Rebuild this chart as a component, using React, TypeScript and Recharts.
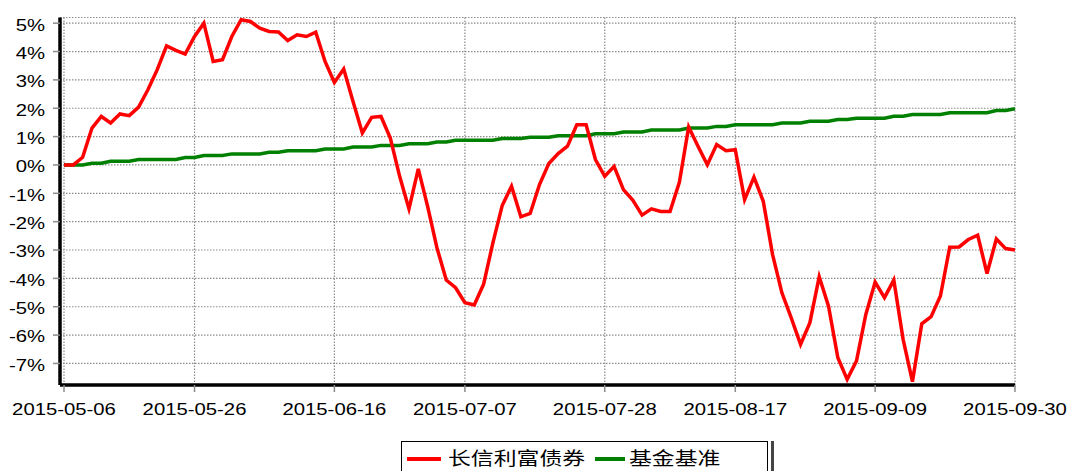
import React from "react";
import {
  LineChart,
  Line,
  XAxis,
  YAxis,
  CartesianGrid,
  Legend,
} from "recharts";

const DATES: string[] = [
  "2015-05-06", "2015-05-07", "2015-05-08", "2015-05-11", "2015-05-12", "2015-05-13",
  "2015-05-14", "2015-05-15", "2015-05-18", "2015-05-19", "2015-05-20", "2015-05-21",
  "2015-05-22", "2015-05-25", "2015-05-26", "2015-05-27", "2015-05-28", "2015-05-29",
  "2015-06-01", "2015-06-02", "2015-06-03", "2015-06-04", "2015-06-05", "2015-06-08",
  "2015-06-09", "2015-06-10", "2015-06-11", "2015-06-12", "2015-06-15", "2015-06-16",
  "2015-06-17", "2015-06-18", "2015-06-19", "2015-06-23", "2015-06-24", "2015-06-25",
  "2015-06-26", "2015-06-29", "2015-06-30", "2015-07-01", "2015-07-02", "2015-07-03",
  "2015-07-06", "2015-07-07", "2015-07-08", "2015-07-09", "2015-07-10", "2015-07-13",
  "2015-07-14", "2015-07-15", "2015-07-16", "2015-07-17", "2015-07-20", "2015-07-21",
  "2015-07-22", "2015-07-23", "2015-07-24", "2015-07-27", "2015-07-28", "2015-07-29",
  "2015-07-30", "2015-07-31", "2015-08-03", "2015-08-04", "2015-08-05", "2015-08-06",
  "2015-08-07", "2015-08-10", "2015-08-11", "2015-08-12", "2015-08-13", "2015-08-14",
  "2015-08-17", "2015-08-18", "2015-08-19", "2015-08-20", "2015-08-21", "2015-08-24",
  "2015-08-25", "2015-08-26", "2015-08-27", "2015-08-28", "2015-08-31", "2015-09-01",
  "2015-09-02", "2015-09-07", "2015-09-08", "2015-09-09", "2015-09-10", "2015-09-11",
  "2015-09-14", "2015-09-15", "2015-09-16", "2015-09-17", "2015-09-18", "2015-09-21",
  "2015-09-22", "2015-09-23", "2015-09-24", "2015-09-25", "2015-09-28", "2015-09-29",
  "2015-09-30",
];

// 长信利富债券 cumulative return, %
const FUND: number[] = [
  0, 0, 0.27, 1.3, 1.71, 1.48, 1.8, 1.74, 2.04, 2.65,
  3.36, 4.2, 4.04, 3.91, 4.53, 5.0, 3.65, 3.71, 4.53, 5.12,
  5.06, 4.82, 4.71, 4.69, 4.39, 4.59, 4.53, 4.68, 3.65, 2.91,
  3.38, 2.24, 1.13, 1.68, 1.71, 0.95, -0.4, -1.55, -0.14, -1.46,
  -2.92, -4.06, -4.33, -4.86, -4.94, -4.21, -2.75, -1.43, -0.75, -1.83,
  -1.71, -0.69, 0.05, 0.4, 0.66, 1.42, 1.42, 0.19, -0.4, -0.05,
  -0.87, -1.24, -1.77, -1.55, -1.64, -1.64, -0.61, 1.34, 0.66, 0.01,
  0.72, 0.5, 0.54, -1.22, -0.43, -1.28, -3.16, -4.51, -5.39, -6.33,
  -5.56, -3.94, -4.98, -6.8, -7.56, -6.91, -5.27, -4.13, -4.68, -4.06,
  -6.15, -7.64, -5.6, -5.35, -4.62, -2.9, -2.89, -2.63, -2.48, -3.83,
  -2.61, -2.95, -3.0,
];

// 基金基准 cumulative return, %
const BENCH: number[] = [
  0, 0, 0, 0.06, 0.06, 0.13, 0.13, 0.13, 0.19, 0.19,
  0.19, 0.19, 0.19, 0.26, 0.26, 0.33, 0.33, 0.33, 0.39, 0.39,
  0.39, 0.39, 0.45, 0.45, 0.5, 0.5, 0.5, 0.5, 0.56, 0.56,
  0.56, 0.63, 0.63, 0.63, 0.69, 0.69, 0.69, 0.75, 0.75, 0.75,
  0.81, 0.81, 0.87, 0.87, 0.87, 0.87, 0.87, 0.93, 0.93, 0.93,
  0.98, 0.98, 0.98, 1.03, 1.03, 1.03, 1.03, 1.1, 1.1, 1.1,
  1.16, 1.16, 1.16, 1.23, 1.23, 1.23, 1.23, 1.3, 1.3, 1.3,
  1.36, 1.36, 1.42, 1.42, 1.42, 1.42, 1.42, 1.48, 1.48, 1.48,
  1.54, 1.54, 1.54, 1.6, 1.6, 1.65, 1.65, 1.65, 1.65, 1.72,
  1.72, 1.78, 1.78, 1.78, 1.78, 1.84, 1.84, 1.84, 1.84, 1.84,
  1.92, 1.92, 1.98,
];

const X_TICKS = [0, 14, 29, 43, 58, 72, 87, 102];
const Y_TICKS = [-7, -6, -5, -4, -3, -2, -1, 0, 1, 2, 3, 4, 5];

const FUND_NAME = "长信利富债券";
const BENCH_NAME = "基金基准";

const data = DATES.map((date, i) => ({
  i,
  date,
  fund: FUND[i],
  bench: BENCH[i],
}));

// minor tick marks: quarters between labelled dates, 0.2% steps on y
const X_MINOR: number[] = [];
for (let k = 0; k < X_TICKS.length - 1; k++) {
  const a = X_TICKS[k];
  const b = X_TICKS[k + 1];
  for (let q = 0; q <= 4; q++) X_MINOR.push(a + ((b - a) * q) / 4);
}
const Y_MINOR: number[] = [];
for (let v = -38; v <= 26; v++) Y_MINOR.push(v / 5);

const STRETCH = 1.27;
const LABEL_FONT = "'Liberation Sans', Arial, sans-serif";
const GRID = "#8c8c8c";

const Empty = () => <g />;

const XTick = (props: any) => {
  const { x, payload } = props;
  return (
    <g transform={`translate(${x},415)`}>
      <text
        transform={`scale(${STRETCH},1)`}
        textAnchor="middle"
        fontSize={16}
        fontFamily={LABEL_FONT}
        fill="#000"
      >
        {DATES[payload.value]}
      </text>
    </g>
  );
};

const YTick = (props: any) => {
  const { y, payload } = props;
  return (
    <g transform={`translate(45,${y + 7.4})`}>
      <text
        transform={`scale(${STRETCH},1)`}
        textAnchor="end"
        fontSize={16}
        fontFamily={LABEL_FONT}
        fill="#000"
      >
        {`${payload.value}%`}
      </text>
    </g>
  );
};

const LegendBox = (props: any) => {
  const items: any[] = props.payload || [];
  const find = (name: string) => items.find((p) => p.value === name);
  const fund = find(FUND_NAME);
  const bench = find(BENCH_NAME);
  const label = (left: number, text: string) => (
    <span
      style={{
        position: "absolute",
        left,
        top: 5,
        fontSize: 18,
        lineHeight: "20px",
        whiteSpace: "nowrap",
        fontFamily: "'Noto Sans CJK SC', sans-serif",
        transform: `scaleX(${STRETCH})`,
        transformOrigin: "left center",
        color: "#000",
      }}
    >
      {text}
    </span>
  );
  const swatch = (left: number, width: number, color: string) => (
    <span
      style={{
        position: "absolute",
        left,
        top: 15,
        width,
        height: 4,
        background: color,
      }}
    />
  );
  return (
    <div
      style={{
        position: "relative",
        width: 367,
        height: 40,
        border: "1px solid #000",
        boxSizing: "border-box",
        background: "#fff",
        boxShadow: "3px 0 0 0 #fff, 6px 0 0 0 #444",
      }}
    >
      {swatch(5, 34, fund ? fund.color : "#ff0000")}
      {label(46, FUND_NAME)}
      {swatch(193, 30, bench ? bench.color : "#008000")}
      {label(227, BENCH_NAME)}
    </div>
  );
};

export default function App() {
  return (
    <div style={{ position: "absolute", left: 0, top: 0, background: "#fff" }}>
      <LineChart
        width={1069}
        height={471}
        data={data}
        margin={{ top: 17.5, right: 54, left: 0, bottom: 46 }}
      >
        <CartesianGrid
          stroke={GRID}
          strokeDasharray="1.5 1.5"
          strokeWidth={1.2}
        />
        <XAxis
          xAxisId={0}
          type="number"
          dataKey="i"
          domain={[0, 102]}
          ticks={X_TICKS}
          interval={0}
          padding={{ left: 4, right: 0 }}
          height={40}
          tickSize={7}
          tickLine={{ stroke: GRID, strokeWidth: 1.5 }}
          axisLine={{ stroke: "#000", strokeWidth: 3.5 }}
          tick={XTick}
        />
        <XAxis
          xAxisId="minor"
          type="number"
          dataKey="i"
          domain={[0, 102]}
          ticks={X_MINOR}
          interval={0}
          padding={{ left: 4, right: 0 }}
          height={0}
          tickSize={5}
          tickLine={{ stroke: GRID, strokeWidth: 1.5 }}
          axisLine={false}
          tick={Empty}
        />
        <YAxis
          yAxisId={0}
          type="number"
          domain={[-7.76, 5.2]}
          ticks={Y_TICKS}
          interval={0}
          allowDataOverflow
          width={60}
          tickSize={7}
          tickLine={{ stroke: GRID, strokeWidth: 1.5 }}
          axisLine={{ stroke: "#000", strokeWidth: 3.5 }}
          tick={YTick}
        />
        <YAxis
          yAxisId="minor"
          type="number"
          domain={[-7.76, 5.2]}
          ticks={Y_MINOR}
          interval={0}
          allowDataOverflow
          width={0}
          tickSize={3}
          tickLine={{ stroke: GRID, strokeWidth: 1.5 }}
          axisLine={false}
          tick={Empty}
        />
        <Legend
          layout="horizontal"
          verticalAlign="middle"
          align="center"
          wrapperStyle={{ left: 401, top: 441, width: 367, height: 40 }}
          content={LegendBox}
        />
        <Line
          xAxisId={0}
          yAxisId={0}
          type="linear"
          dataKey="bench"
          name={BENCH_NAME}
          stroke="#008000"
          strokeWidth={3.5}
          dot={false}
          activeDot={false}
          isAnimationActive={false}
        />
        <Line
          xAxisId={0}
          yAxisId={0}
          type="linear"
          dataKey="fund"
          name={FUND_NAME}
          stroke="#ff0000"
          strokeWidth={3.5}
          dot={false}
          activeDot={false}
          isAnimationActive={false}
        />
      </LineChart>
    </div>
  );
}
